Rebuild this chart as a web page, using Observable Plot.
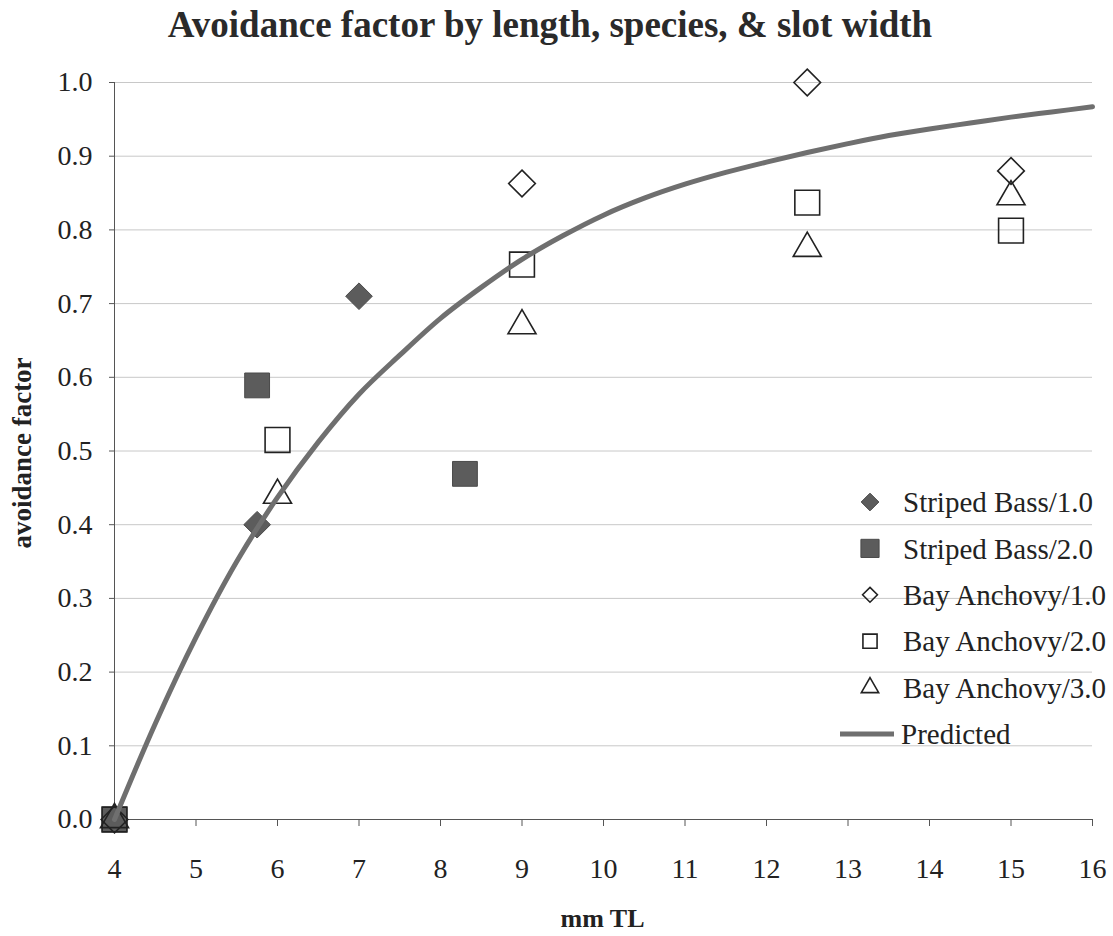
<!DOCTYPE html>
<html><head><meta charset="utf-8">
<script src="https://cdn.jsdelivr.net/npm/d3@7"></script>
<script src="https://cdn.jsdelivr.net/npm/@observablehq/plot@0.6"></script>
<style>
body{margin:0;background:#fff;font-family:"Liberation Serif",serif;}
#wrap{position:relative;width:1113px;height:936px;overflow:hidden;}
#title{position:absolute;left:0;top:0;width:1100px;text-align:center;font-weight:bold;font-size:37px;line-height:50px;color:#2a2a2a;}
#chart{position:absolute;left:0;top:60px;}
#legend{position:absolute;left:0;top:0;}
</style></head><body>
<div id="wrap">
<div id="title">Avoidance factor by length, species, &amp; slot width</div>
<div id="chart"></div>
<svg id="legend" width="1113" height="936"></svg>
</div>
<script>
// ---- data ----
const sbass1X = [4, 5.75, 7.0];
const sbass1Y = [0, 0.40, 0.71];
const sbass2X = [4, 5.75, 8.3];
const sbass2Y = [0, 0.589, 0.469];
const anch1X = [4, 9.0, 12.5, 15.0];
const anch1Y = [0, 0.863, 1.0, 0.88];
const anch2X = [4, 6.0, 9.0, 12.5, 15.0];
const anch2Y = [0, 0.515, 0.753, 0.837, 0.799];
const anch3X = [4, 6.0, 9.0, 12.5, 15.0];
const anch3Y = [0, 0.44, 0.67, 0.775, 0.845];
const predX = [4, 4.5, 5, 5.5, 6, 6.5, 7, 7.5, 8, 8.5, 9, 9.5, 10, 10.5, 11, 11.5, 12, 12.5, 13, 13.5, 14, 14.5, 15, 15.5, 16];
const predY = [0, 0.13, 0.247, 0.35, 0.437, 0.512, 0.577, 0.63, 0.68, 0.722, 0.76, 0.792, 0.82, 0.843, 0.862, 0.878, 0.892, 0.905, 0.917, 0.928, 0.937, 0.945, 0.953, 0.96, 0.967];
const xTicks = [4, 5, 6, 7, 8, 9, 10, 11, 12, 13, 14, 15, 16];
const yTicks = [0, 0.1, 0.2, 0.3, 0.4, 0.5, 0.6, 0.7, 0.8, 0.9, 1.0];
const seriesNames = ["Striped Bass/1.0", "Striped Bass/2.0", "Bay Anchovy/1.0", "Bay Anchovy/2.0", "Bay Anchovy/3.0", "Predicted"];

const pts = (xs, ys) => xs.map((x, i) => ({x, y: ys[i]}));
const sb1 = pts(sbass1X, sbass1Y), sb2 = pts(sbass2X, sbass2Y);
const ba1 = pts(anch1X, anch1Y), ba2 = pts(anch2X, anch2Y), ba3 = pts(anch3X, anch3Y);
const pred = pts(predX, predY);

const FILL = "#5c5c5c", OPEN = "#222";
const serif = '"Liberation Serif", "Times New Roman", serif';

const plot = Plot.plot({
  width: 1113, height: 876,
  marginLeft: 114, marginRight: 21, marginTop: 22, marginBottom: 117,
  style: {fontFamily: serif, fontSize: "28px", color: "#222", background: "white", overflow: "visible"},
  x: {domain: [4, 16]},
  y: {domain: [0, 1]},
  marks: [
    Plot.gridY(yTicks.filter(d => d > 0), {stroke: "#c8c8c8", strokeOpacity: 1}),
    Plot.ruleY([0], {stroke: "#555"}),
    Plot.ruleX([4], {stroke: "#555"}),
    Plot.axisY({ticks: yTicks, tickFormat: d3.format(".1f"), tickSize: 5, tickPadding: 17, label: null, stroke: "#555", fontSize: 28}),
    Plot.axisX({ticks: xTicks, tickFormat: d => d, tickSize: 7, tickPadding: 32, label: null, stroke: "#555", fontSize: 28}),
    Plot.dot(sb1, {x: "x", y: "y", symbol: "diamond2", r: 12, fill: FILL, stroke: "#4a4a4a", strokeWidth: 1}),
    Plot.dot(sb2, {x: "x", y: "y", symbol: "square", r: 14, fill: FILL, stroke: "#4a4a4a", strokeWidth: 1}),
    Plot.dot(ba1, {x: "x", y: "y", symbol: "diamond2", r: 12, fill: "none", stroke: OPEN, strokeWidth: 1.6}),
    Plot.dot(ba2, {x: "x", y: "y", symbol: "square", r: 14, fill: "none", stroke: OPEN, strokeWidth: 1.6}),
    Plot.dot(ba3, {x: "x", y: "y", symbol: "triangle", r: 10.4, fill: "none", stroke: OPEN, strokeWidth: 1.6}),
    Plot.line(pred, {x: "x", y: "y", stroke: "#6f6f6f", strokeWidth: 5, curve: "catmull-rom"}),
    Plot.text(["avoidance factor"], {text: d => d, frameAnchor: "left", textAnchor: "middle", dx: -92, dy: 2, rotate: -90, fontWeight: "bold", fontSize: 27, fill: "#222"}),
    Plot.text(["mm TL"], {text: d => d, frameAnchor: "bottom", dx: -1, dy: 107, fontWeight: "bold", fontSize: 26, fill: "#222"})
  ]
});
document.getElementById("chart").appendChild(plot);

// ---- legend ----
const lg = d3.select("#legend");
const rowY0 = 502, rowStep = 46.4, symX = 870, textX = 903;
const legendSyms = [
  {type: d3.symbolDiamond2, size: 200, fill: FILL, stroke: "#4a4a4a", sw: 1},
  {type: d3.symbolSquare, size: 330, fill: FILL, stroke: "#4a4a4a", sw: 1},
  {type: d3.symbolDiamond2, size: 140, fill: "none", stroke: OPEN, sw: 1.6},
  {type: d3.symbolSquare, size: 200, fill: "none", stroke: OPEN, sw: 1.6},
  {type: d3.symbolTriangle, size: 130, fill: "none", stroke: OPEN, sw: 1.6}
];
seriesNames.forEach((name, i) => {
  const cy = rowY0 + i * rowStep;
  if (i < 5) {
    const s = legendSyms[i];
    lg.append("path").attr("d", d3.symbol(s.type, s.size)()).attr("transform", `translate(${symX},${cy})`)
      .attr("fill", s.fill).attr("stroke", s.stroke).attr("stroke-width", s.sw);
  } else {
    lg.append("line").attr("x1", 840).attr("x2", 894).attr("y1", cy).attr("y2", cy)
      .attr("stroke", "#6f6f6f").attr("stroke-width", 5);
  }
  lg.append("text").attr("x", i < 5 ? textX : 901).attr("y", cy).attr("dy", "0.35em")
    .attr("font-family", serif).attr("font-size", 29).attr("fill", "#222").text(name);
});
</script>
</body></html>
